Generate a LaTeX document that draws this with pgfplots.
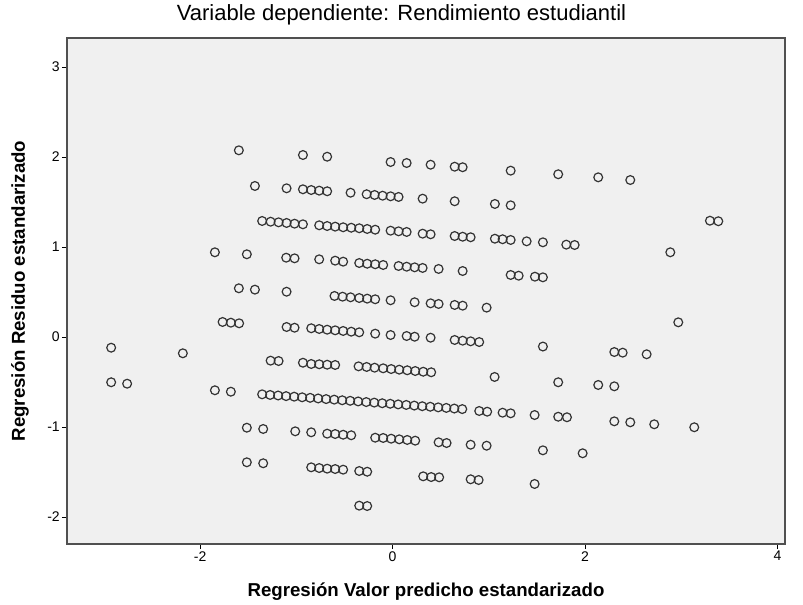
\documentclass[border=0pt]{standalone}
\usepackage{fontspec}
\setmainfont{Liberation Sans}
\usepackage{pgfplots}
\pgfplotsset{compat=1.18}
\definecolor{bgcol}{HTML}{F0F0F0}
\definecolor{framecol}{HTML}{505050}
\definecolor{markcol}{HTML}{333333}

\pgfplotstableread{
x y
-1.598 2.074
-0.932 2.022
-0.680 2.003
-0.021 1.944
0.146 1.933
0.395 1.914
0.645 1.892
0.728 1.886
1.227 1.848
1.721 1.808
2.137 1.774
2.470 1.744
-1.431 1.678
-1.102 1.652
-0.932 1.641
-0.846 1.633
-0.763 1.626
-0.680 1.619
-0.437 1.603
-0.270 1.586
-0.187 1.578
-0.104 1.570
-0.021 1.563
0.062 1.556
0.312 1.537
0.645 1.508
1.063 1.478
1.227 1.463
-1.356 1.289
-1.268 1.281
-1.185 1.274
-1.102 1.267
-1.019 1.259
-0.932 1.252
-0.763 1.241
-0.680 1.233
-0.597 1.226
-0.514 1.219
-0.430 1.214
-0.347 1.208
-0.264 1.200
-0.181 1.192
-0.021 1.181
0.062 1.174
0.146 1.167
0.312 1.148
0.395 1.141
0.645 1.122
0.728 1.114
0.811 1.108
1.063 1.092
1.143 1.086
1.227 1.078
1.393 1.063
1.562 1.052
1.805 1.026
1.892 1.022
3.298 1.292
3.385 1.286
2.886 0.941
-1.847 0.941
-1.515 0.919
-1.106 0.881
-1.019 0.874
-0.763 0.863
-0.597 0.848
-0.514 0.837
-0.347 0.822
-0.264 0.814
-0.181 0.808
-0.098 0.800
0.062 0.789
0.146 0.781
0.229 0.774
0.312 0.767
0.478 0.756
0.728 0.733
1.227 0.689
1.310 0.681
1.479 0.670
1.562 0.663
-1.598 0.541
-1.431 0.526
-1.102 0.503
-0.604 0.456
-0.520 0.448
-0.437 0.441
-0.347 0.433
-0.264 0.426
-0.181 0.419
-0.021 0.408
0.229 0.386
0.395 0.374
0.478 0.367
0.645 0.356
0.728 0.348
0.977 0.326
-1.767 0.167
-1.681 0.159
-1.595 0.152
-1.102 0.111
-1.019 0.103
-0.846 0.097
-0.763 0.089
-0.680 0.081
-0.597 0.074
-0.514 0.067
-0.430 0.059
-0.347 0.052
-0.181 0.037
-0.021 0.022
0.146 0.011
0.229 0.003
0.395 -0.008
0.645 -0.033
0.728 -0.041
0.811 -0.048
0.900 -0.056
1.562 -0.106
2.304 -0.167
2.391 -0.174
2.640 -0.192
2.969 0.163
-2.925 -0.119
-2.180 -0.181
-1.268 -0.263
-1.185 -0.267
-0.932 -0.286
-0.846 -0.300
-0.763 -0.303
-0.680 -0.308
-0.597 -0.311
-0.354 -0.326
-0.270 -0.333
-0.187 -0.341
-0.098 -0.348
-0.015 -0.356
0.069 -0.363
0.152 -0.370
0.235 -0.378
0.318 -0.386
0.401 -0.392
1.060 -0.444
-2.925 -0.503
-2.759 -0.519
1.721 -0.503
2.137 -0.533
2.304 -0.548
-1.847 -0.592
-1.681 -0.608
-1.356 -0.637
-1.273 -0.644
-1.190 -0.650
-1.107 -0.657
-1.023 -0.663
-0.940 -0.670
-0.857 -0.676
-0.774 -0.683
-0.691 -0.690
-0.607 -0.696
-0.524 -0.703
-0.441 -0.709
-0.358 -0.716
-0.274 -0.723
-0.191 -0.729
-0.108 -0.736
-0.025 -0.742
0.058 -0.749
0.142 -0.755
0.225 -0.762
0.308 -0.769
0.391 -0.775
0.474 -0.782
0.558 -0.788
0.641 -0.795
0.724 -0.801
0.900 -0.822
0.983 -0.830
1.143 -0.841
1.227 -0.848
1.476 -0.867
1.721 -0.886
1.812 -0.892
2.304 -0.937
2.470 -0.948
2.719 -0.970
3.135 -1.003
-1.515 -1.008
-1.345 -1.022
-1.012 -1.048
-0.846 -1.059
-0.680 -1.074
-0.597 -1.078
-0.514 -1.086
-0.430 -1.092
-0.181 -1.119
-0.098 -1.122
-0.015 -1.130
0.069 -1.137
0.152 -1.144
0.235 -1.152
0.478 -1.170
0.561 -1.178
0.811 -1.197
0.977 -1.208
1.562 -1.259
1.975 -1.292
-1.515 -1.392
-1.345 -1.403
-0.846 -1.448
-0.763 -1.456
-0.680 -1.463
-0.597 -1.467
-0.514 -1.474
-0.347 -1.489
-0.264 -1.497
0.318 -1.548
0.401 -1.556
0.484 -1.559
0.811 -1.581
0.894 -1.589
1.476 -1.633
-0.347 -1.874
-0.264 -1.878
}\residuos

\begin{document}
\begin{tikzpicture}
\useasboundingbox (-50.25pt,-45pt) rectangle (552pt,408pt);
\begin{axis}[
  at={(0,0)}, anchor=south west,
  scale only axis, width=538.5pt, height=379.5pt,
  xmin=-3.384, xmax=4.078, ymin=-2.3, ymax=3.322,
  xtick={-2,0,2,4}, xticklabels={-2,0,2,4},
  ytick={-2,-1,0,1,2,3}, yticklabels={-2,-1,0,1,2,3},
  tick align=outside, tick pos=left,
  major tick length=3.75pt,
  tick style={draw=black, line width=0.6pt},
  axis background/.style={fill=bgcol},
  axis line style={draw=framecol, line width=0.9pt},
  ticklabel style={font=\fontsize{10.5}{12}\selectfont, inner sep=1.5pt},
  title={Variable dependiente: Rendimiento estudiantil},
  title style={font=\fontsize{16.5}{18}\selectfont, at={(axis description cs:0.4659,1.0197)}, anchor=base},
  xlabel={Regresión Valor predicho estandarizado},
  ylabel={Regresión Residuo estandarizado},
  label style={font=\bfseries\fontsize{14}{16}\selectfont},
  xlabel style={at={(axis description cs:0.5,-0.0949)}, anchor=center},
  ylabel style={at={(axis description cs:-0.0655,0.5)}, anchor=center},
]
\addplot[only marks, mark=o, mark size=3.3pt, mark options={draw=markcol, line width=0.9pt}] table[x=x, y=y] {\residuos};
\end{axis}
\end{tikzpicture}
\end{document}
